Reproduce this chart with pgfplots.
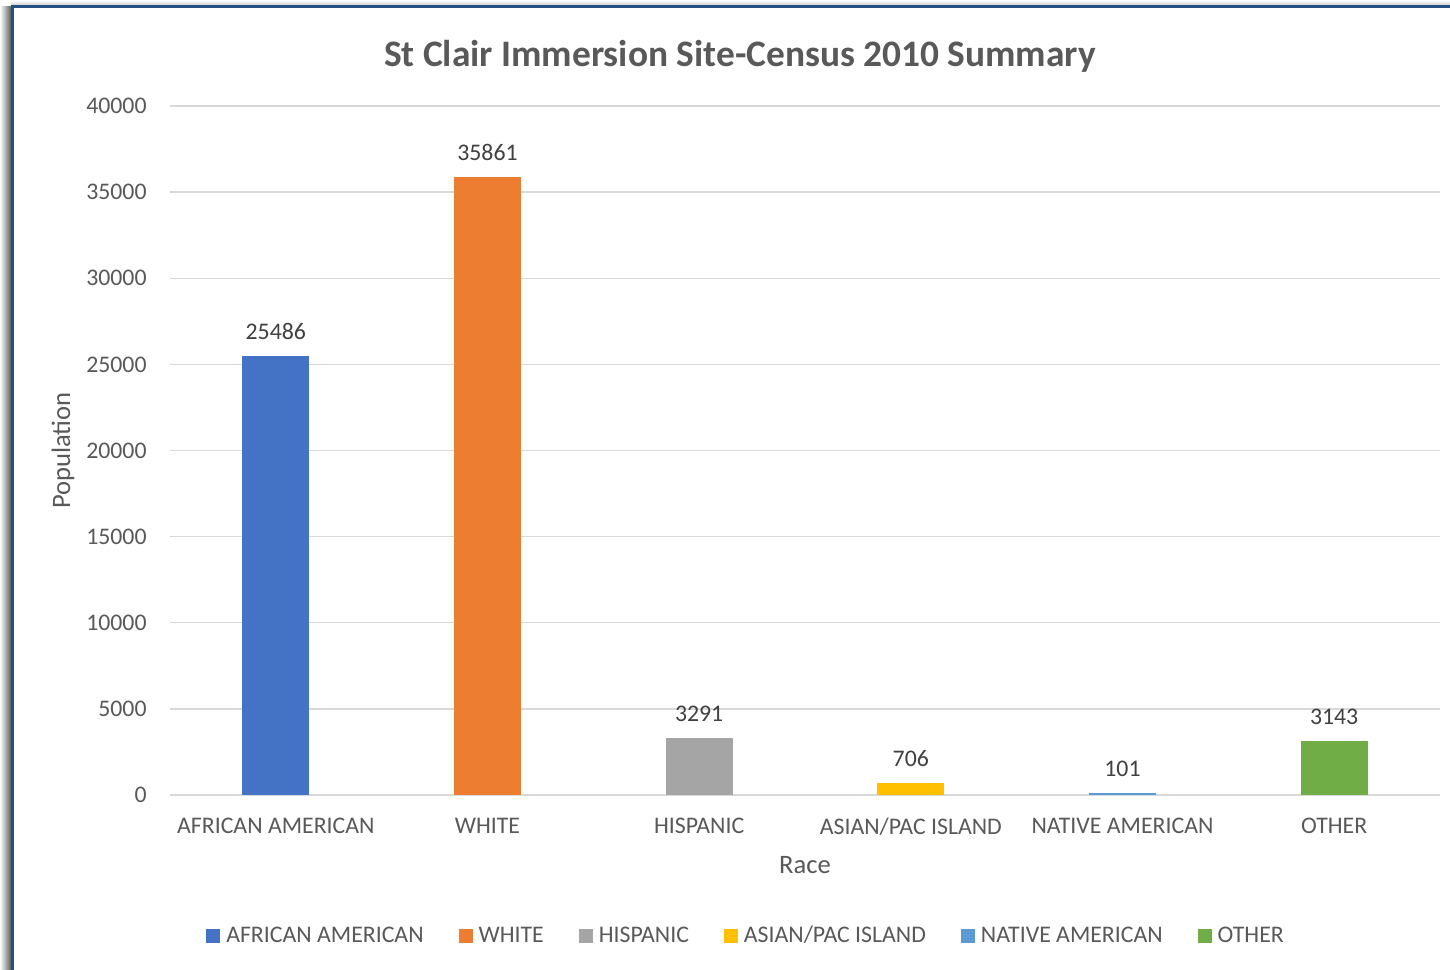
\documentclass[border=0pt]{standalone}
\usepackage{pgfplots}
\pgfplotsset{compat=1.18}
\usepackage{fontspec}
\setmainfont{Carlito}
\definecolor{txt}{HTML}{595959}
\definecolor{lbl}{HTML}{404040}
\definecolor{gridc}{HTML}{D9D9D9}
\definecolor{frame}{RGB}{38,80,130}
\definecolor{cA}{HTML}{4472C4}
\definecolor{cB}{HTML}{ED7D31}
\definecolor{cC}{HTML}{A5A5A5}
\definecolor{cD}{HTML}{FFC000}
\definecolor{cE}{HTML}{5B9BD5}
\definecolor{cF}{HTML}{70AD47}
\begin{document}
\begin{tikzpicture}[x=1pt,y=1pt]
\useasboundingbox (0,0) rectangle (725,484.5);
\fill[white] (0,0) rectangle (725,484.5);
\shade[left color=white, right color=black!65] (0,0) rectangle (5.6,481);
\shade[top color=white, bottom color=black!25] (5.6,481) rectangle (725,484.5);
\draw[line width=1.5pt, frame] (6.4,-5) -- (6.4,481.2) -- (730,481.2);
\node[font=\bfseries\fontsize{18.7}{22}\selectfont, text=txt] at (370,456.5) {St Clair Immersion Site-Census 2010 Summary};
\begin{axis}[
  at={(85pt,87pt)}, anchor=south west,
  scale only axis, width=635pt, height=344.5pt,
  ybar, bar width=33.5pt, bar shift=0pt,
  xmin=-0.5, xmax=5.5, ymin=0, ymax=40000,
  xtick={0,1,2,3,4,5},
  xticklabels={AFRICAN AMERICAN,WHITE,HISPANIC,ASIAN/PAC ISLAND,NATIVE AMERICAN,OTHER},
  ytick={0,5000,...,40000},
  ymajorgrids, major grid style={draw=gridc, line width=0.75pt},
  axis line style={draw=none},
  major tick length=0pt,
  scaled y ticks=false,
  /pgf/number format/1000 sep={},
  /pgf/number format/assume math mode=true,
  tick label style={font=\fontsize{11.9}{14}\selectfont, text=txt},
  xticklabel style={anchor=north, inner sep=0pt, yshift=-11.5pt},
  yticklabel style={anchor=east, inner sep=0pt, xshift=-11.5pt},
  xlabel={Race}, ylabel={Population},
  label style={font=\fontsize{13.3}{16}\selectfont, text=txt},
  xlabel style={at={(axis description cs:0.5,-0.1016)}, anchor=center},
  ylabel style={at={(axis description cs:-0.0843,0.5)}, anchor=center, rotate=0},
  nodes near coords,
  nodes near coords style={font=\fontsize{11.9}{14}\selectfont, text=lbl, anchor=south, inner sep=0pt, yshift=8pt},
  legend columns=6,
  legend style={at={(axis description cs:0.4528,-0.2046)}, anchor=center, draw=none, fill=none,
    font=\fontsize{11.9}{14}\selectfont, text=txt, nodes={inner sep=0pt},
    /tikz/every odd column/.append style={column sep=3pt},
    /tikz/every even column/.append style={column sep=17.5pt}},
  legend image code/.code={\fill[#1] (0pt,-3.5pt) rectangle (7pt,3.5pt);},
]
\addplot[fill=cA, draw=none] coordinates {(0,25486)};
\addplot[fill=cB, draw=none] coordinates {(1,35861)};
\addplot[fill=cC, draw=none] coordinates {(2,3291)};
\addplot[fill=cD, draw=none] coordinates {(3,706)};
\addplot[fill=cE, draw=none] coordinates {(4,101)};
\addplot[fill=cF, draw=none] coordinates {(5,3143)};
\legend{AFRICAN AMERICAN,WHITE,HISPANIC,ASIAN/PAC ISLAND,NATIVE AMERICAN,OTHER}
\end{axis}
\end{tikzpicture}
\end{document}
